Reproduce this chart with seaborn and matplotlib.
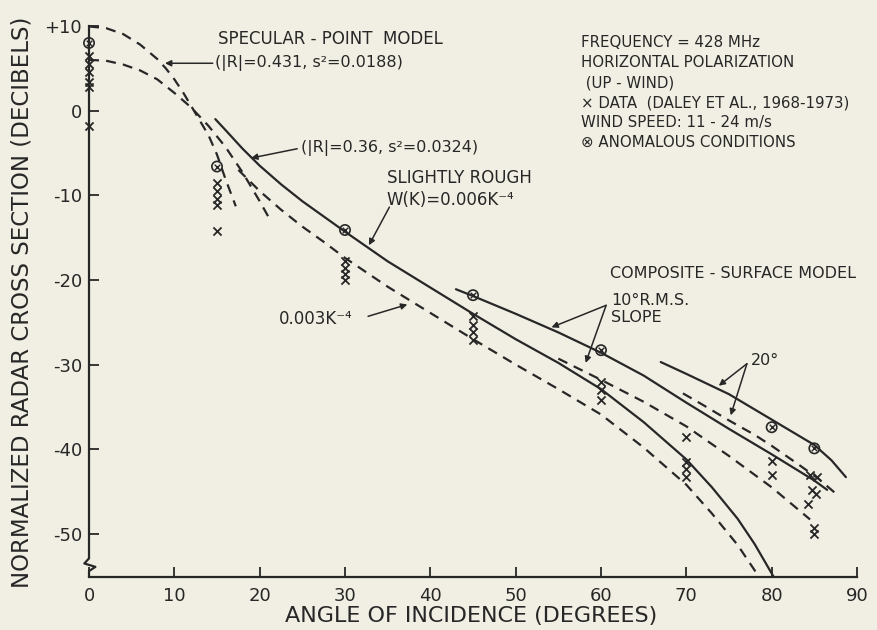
import matplotlib
matplotlib.use("Agg")
import matplotlib.pyplot as plt
import seaborn as sns
import pandas as pd

# ---------------- data ----------------
# Specular-point model, |R|=0.431, s^2=0.0188
spec431_ang = [0, 2, 4, 6, 8, 9, 10, 11, 12, 13, 14, 15, 16, 17.2]
spec431_db = [9.95, 9.75, 9.05, 7.8, 6.1, 5.0, 3.7, 2.2, 0.5, -1.2, -2.9, -5.2, -8.1, -11.3]
# Specular-point model, |R|=0.36, s^2=0.0324
spec36_ang = [0, 2, 4, 6, 8, 10, 12, 14, 16, 18, 19, 20, 21]
spec36_db = [6.0, 5.9, 5.45, 4.75, 3.7, 2.1, 0.35, -1.8, -4.3, -7.3, -9.0, -10.7, -12.5]
# Slightly rough, W(K)=0.006K^-4 (solid)
rough6_ang = [14.8, 16, 18, 20, 22.5, 25, 27.5, 30, 35, 40, 45, 50, 55, 60, 65, 70, 73, 76, 78, 79.5, 80.3]
rough6_db = [-1.0, -2.3, -4.5, -6.5, -8.7, -10.7, -12.5, -14.3, -17.8, -20.9, -24.0, -27.0,
             -29.8, -32.9, -36.8, -41.2, -44.5, -48.2, -51.2, -53.8, -55.2]
# Slightly rough, 0.003K^-4 (dashed)
rough3_ang = [17.5, 20, 22.5, 25, 27.5, 30, 35, 40, 45, 50, 55, 60, 65, 70, 73, 76, 78, 78.4]
rough3_db = [-7.0, -9.5, -11.7, -13.7, -15.5, -17.4, -20.8, -23.9, -27.0, -30.0, -32.9,
             -35.9, -39.8, -44.2, -47.6, -51.3, -54.3, -55.0]
# Composite-surface model, 10 deg rms slope
comp10s_ang = [43, 45, 50, 55, 60, 65, 70, 75, 80, 85, 86.5]
comp10s_db = [-21.1, -21.9, -24.0, -26.2, -28.6, -31.3, -34.5, -37.6, -40.6, -43.7, -44.8]
comp10d_ang = [55, 60, 65, 70, 75, 80, 84.5]
comp10d_db = [-29.3, -31.8, -34.4, -37.3, -40.8, -44.5, -48.3]
# Composite-surface model, 20 deg rms slope
comp20s_ang = [67, 70, 75, 80, 85, 87, 88.7]
comp20s_db = [-29.7, -31.1, -33.5, -36.5, -39.5, -41.3, -43.3]
comp20d_ang = [69.6, 72, 75, 78, 80, 83, 85.5, 87.7]
comp20d_db = [-33.4, -34.8, -36.6, -38.3, -39.6, -41.7, -43.5, -45.4]

# Measured data (Daley et al., 1968-1973)
data_ang = [0, 0, 0, 0, 0, 0,
            15, 15, 15, 15, 15,
            30, 30, 30, 30,
            45, 45, 45, 45,
            60, 60, 60,
            70, 70, 70, 70,
            80, 80,
            84.5, 85.3, 84.7, 85.2, 84.2, 85.0, 85.0]
data_db = [6.5, 5.5, 4.6, 3.4, 2.8, -1.8,
           -8.6, -9.5, -10.4, -11.2, -14.2,
           -17.8, -18.6, -19.3, -20.0,
           -24.3, -25.3, -26.2, -27.1,
           -32.1, -33.0, -34.2,
           -38.6, -41.5, -42.3, -43.3,
           -41.4, -43.1,
           -43.1, -43.3, -44.8, -45.3, -46.5, -49.3, -50.0]
# Anomalous conditions
anom_ang = [0, 15, 30, 45, 60, 80, 85]
anom_db = [8.0, -6.6, -14.1, -21.8, -28.3, -37.4, -39.9]

x_ticks = [0, 10, 20, 30, 40, 50, 60, 70, 80, 90]
y_ticks = [10, 0, -10, -20, -30, -40, -50]
y_tick_labels = ["+10", "0", "-10", "-20", "-30", "-40", "-50"]

# ---------------- style ----------------
sns.set_style("ticks")
paper = "#f1efe3"
ink = "#272727"
plt.rcParams["font.family"] = ["DejaVu Sans"]
plt.rcParams["text.color"] = ink

fig = plt.figure(figsize=(8.77, 6.30), dpi=100, facecolor=paper)
ax = fig.add_axes([0.1015, 0.0841, 0.8757, 0.8746], facecolor=paper)

LW = 1.6
DASH = (0, (4.5, 3.2))

curves = [
    (spec431_ang, spec431_db, True, False),
    (spec36_ang, spec36_db, True, False),
    (rough6_ang, rough6_db, False, True),
    (rough3_ang, rough3_db, True, True),
    (comp10s_ang, comp10s_db, False, True),
    (comp10d_ang, comp10d_db, True, True),
    (comp20s_ang, comp20s_db, False, True),
    (comp20d_ang, comp20d_db, True, True),
]
for xs, ys, dashed, clip in curves:
    df = pd.DataFrame({"ang": xs, "db": ys})
    sns.lineplot(data=df, x="ang", y="db", ax=ax, color=ink, lw=LW,
                 linestyle=DASH if dashed else "-", sort=False, estimator=None,
                 clip_on=clip, zorder=3)

df_data = pd.DataFrame({"ang": data_ang, "db": data_db})
sns.scatterplot(data=df_data, x="ang", y="db", ax=ax, marker="x", s=34,
                color=ink, linewidth=1.3, clip_on=False, zorder=5)
df_anom = pd.DataFrame({"ang": anom_ang, "db": anom_db})
sns.scatterplot(data=df_anom, x="ang", y="db", ax=ax, marker="o", s=55,
                facecolors="none", edgecolor=ink, color=ink, linewidth=1.2,
                clip_on=False, zorder=5)
sns.scatterplot(data=df_anom, x="ang", y="db", ax=ax, marker="x", s=16,
                color=ink, linewidth=1.0, clip_on=False, zorder=6)

# ---------------- axes ----------------
ax.set_xlim(0, 90)
ax.set_ylim(-55.1, 10)
ax.set_xticks(x_ticks)
ax.set_yticks(y_ticks)
ax.set_yticklabels(y_tick_labels)
ax.set_xlabel("")
ax.set_ylabel("")
for side in ["top", "right"]:
    ax.spines[side].set_visible(False)
ax.spines["bottom"].set_color(ink)
ax.spines["bottom"].set_linewidth(1.6)
ax.spines["left"].set_color(ink)
ax.spines["left"].set_linewidth(1.6)
ax.spines["left"].set_bounds(-52.9, 10)
# axis break on the y axis
ax.plot([0, -0.55, 0.75, 0.0, 0.0], [-52.9, -53.5, -53.9, -54.4, -55.1],
        color=ink, lw=1.6, clip_on=False, zorder=4, solid_capstyle="butt")
ax.tick_params(axis="both", direction="in", length=7, width=1.3, colors=ink,
               labelsize=13)
ax.tick_params(axis="x", pad=7)
ax.tick_params(axis="y", pad=5)
ax.grid(False)

fig.text(471 / 877, 1 - 616 / 630, "ANGLE OF INCIDENCE (DEGREES)", ha="center",
         va="center", fontsize=16, color=ink)
fig.text(22 / 877, 1 - 302 / 630, "NORMALIZED RADAR CROSS SECTION (DECIBELS)",
         rotation=90, ha="center", va="center", fontsize=16.5, color=ink)

# ---------------- annotations ----------------
ax.text(15.1, 8.5, "SPECULAR - POINT  MODEL", fontsize=12, va="center")
ax.text(14.8, 5.6, "(|R|=0.431, s²=0.0188)", fontsize=11.5, va="center")
ax.text(24.9, -4.4, "(|R|=0.36, s²=0.0324)", fontsize=11.5, va="center")
ax.text(34.9, -8.0, "SLIGHTLY ROUGH", fontsize=12, va="center")
ax.text(34.9, -10.6, "W(K)=0.006K⁻⁴", fontsize=12, va="center")
ax.text(22.3, -24.6, "0.003K⁻⁴", fontsize=12, va="center")
ax.text(61.1, -19.2, "COMPOSITE - SURFACE MODEL", fontsize=11.5, va="center")
ax.text(61.2, -22.4, "10°R.M.S.", fontsize=11.5, va="center")
ax.text(61.2, -24.4, "SLOPE", fontsize=11.5, va="center")
ax.text(77.6, -29.5, "20°", fontsize=11.5, va="center")

info = ["FREQUENCY = 428 MHz", "HORIZONTAL POLARIZATION", " (UP - WIND)",
        "× DATA  (DALEY ET AL., 1968-1973)", "WIND SPEED: 11 - 24 m/s",
        "⊗ ANOMALOUS CONDITIONS"]
for i, line in enumerate(info):
    ax.text(57.6, 8.0 - i * 2.36, line, fontsize=10.8, va="center")

arrow = dict(arrowstyle="-|>", color=ink, lw=1.1, mutation_scale=9,
             shrinkA=0, shrinkB=0)
ann = [((8.9, 5.6), (14.5, 5.6)),
       ((19.0, -5.6), (24.4, -4.5)),
       ((32.8, -15.9), (35.2, -11.4)),
       ((37.3, -22.9), (32.7, -24.3)),
       ((54.2, -25.6), (60.6, -23.0)),
       ((58.2, -29.8), (60.6, -23.0)),
       ((73.8, -32.5), (77.1, -29.9)),
       ((75.2, -36.0), (77.1, -29.9))]
for tip, tail in ann:
    ax.annotate("", xy=tip, xytext=tail, arrowprops=arrow, zorder=4)

fig.savefig("out.png", dpi=100, facecolor=paper)
